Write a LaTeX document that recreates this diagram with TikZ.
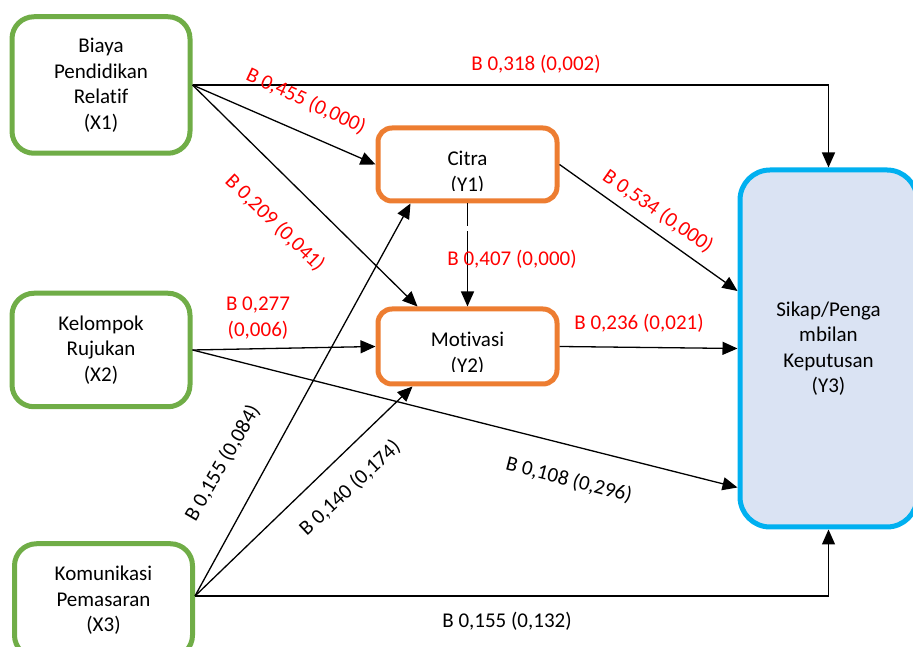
\documentclass[tikz,border=0pt]{standalone}
\usepackage{fontspec}
\setmainfont{Carlito}[Ligatures=NoCommon]
\usetikzlibrary{arrows.meta,positioning,calc}
\definecolor{boxgreen}{RGB}{112,173,71}
\definecolor{boxorange}{RGB}{237,125,49}
\definecolor{boxblue}{RGB}{0,176,240}
\definecolor{boxfill}{RGB}{218,227,243}

\begin{document}
\begin{tikzpicture}[x=1pt,y=1pt,font=\fontsize{21}{25.5}\selectfont,
    xbox/.style={draw=boxgreen,line width=5pt,rounded corners=22pt,minimum width=178pt,align=center},
    ybox/.style={draw=boxorange,line width=5pt,rounded corners=14pt,minimum width=179pt},
    zbox/.style={draw=boxblue,fill=boxfill,line width=5pt,rounded corners=30pt,minimum width=177pt,minimum height=357pt,align=center},
    conn/.style={-{Triangle[length=15pt,width=13pt]},line width=1.3pt},
    coef/.style={text=red,align=center},
    coefb/.style={text=black}]
    \useasboundingbox (0,0) rectangle (913,647);

    % Variabel bebas
    \node[xbox,minimum height=136.5pt] (x1) at (101,562) {Biaya\\Pendidikan\\Relatif\\(X1)};
    \node[xbox,minimum height=113.5pt] (x2) at (101,297) {Kelompok\\Rujukan\\(X2)};
    \node[xbox,minimum height=113.5pt] (x3) at (103.5,46.5) {Komunikasi\\Pemasaran\\(X3)};

    % Variabel antara (teks terpotong di bawah)
    \node[ybox,minimum height=73pt] (y1) at (467.5,482.5) {};
    \begin{scope}
        \clip (y1.north west) rectangle ([yshift=13pt]y1.south east);
        \node[align=center] (y1txt) at ([yshift=-8pt]y1.center) {Citra\\(Y1)};
    \end{scope}
    \node[ybox,minimum height=75pt] (y2) at (467.5,300.5) {};
    \begin{scope}
        \clip (y2.north west) rectangle ([yshift=15pt]y2.south east);
        \node[align=center] (y2txt) at ([yshift=-7pt]y2.center) {Motivasi\\(Y2)};
    \end{scope}

    % Variabel terikat
    \node[zbox] (y3) at (828.5,298.5) {Sikap/Penga\\mbilan\\Keputusan\\(Y3)};

    \coordinate (x3out) at ([yshift=4.5pt]x3.east);

    % Panah
    \draw[conn] (x1.east) -- (x1.east -| y3.north) -- (y3.north);
    \draw[conn] (x1.east) -- (y1.west);
    \draw[conn] (x1.east) -- ([xshift=-50pt]y2.north);
    \draw[conn,dash pattern=on 23pt off 5pt on 200pt off 5pt] (y1.south) -- (y2.north);
    \draw[conn] (y1.east) -- ([yshift=57.5pt]y3.west);
    \draw[conn] (y2.east) -- (y3.west);
    \draw[conn] (x2.east) -- (y2.west);
    \draw[conn] (x2.east) -- ([yshift=-139pt]y3.west);
    \draw[conn] (x3out) -- ([xshift=-57pt]y1.south);
    \draw[conn] (x3out) -- ([xshift=-55pt]y2.south);
    \draw[conn] (x3out) -- (x3out -| y3.south) -- (y3.south);

    % Koefisien
    \node[coef] (b318) at (536,583) {B 0,318 (0,002)};
    \node[coef,rotate=-25] (b455) at (306,546) {B 0,455 (0,000)};
    \node[coef,rotate=-44] (b209) at (275,424) {B 0,209 (0,041)};
    \node[coef] (b407) at (512,388) {B 0,407 (0,000)};
    \node[coef,rotate=-35] (b534) at (658,436) {B 0,534 (0,000)};
    \node[coef] (b236) at (639,324) {B 0,236 (0,021)};
    \node[coef] (b277) at (258,329) {B 0,277\\(0,006)};
    \node[coefb,rotate=-14.5] (b108) at (569,167) {B 0,108 (0,296)};
    \node[coefb,rotate=60] (b155a) at (222.5,184) {B 0,155 (0,084)};
    \node[coefb,rotate=43] (b140) at (350,159) {B 0,140 (0,174)};
    \node[coefb] (b155b) at (507,26) {B 0,155 (0,132)};
\end{tikzpicture}
\end{document}
